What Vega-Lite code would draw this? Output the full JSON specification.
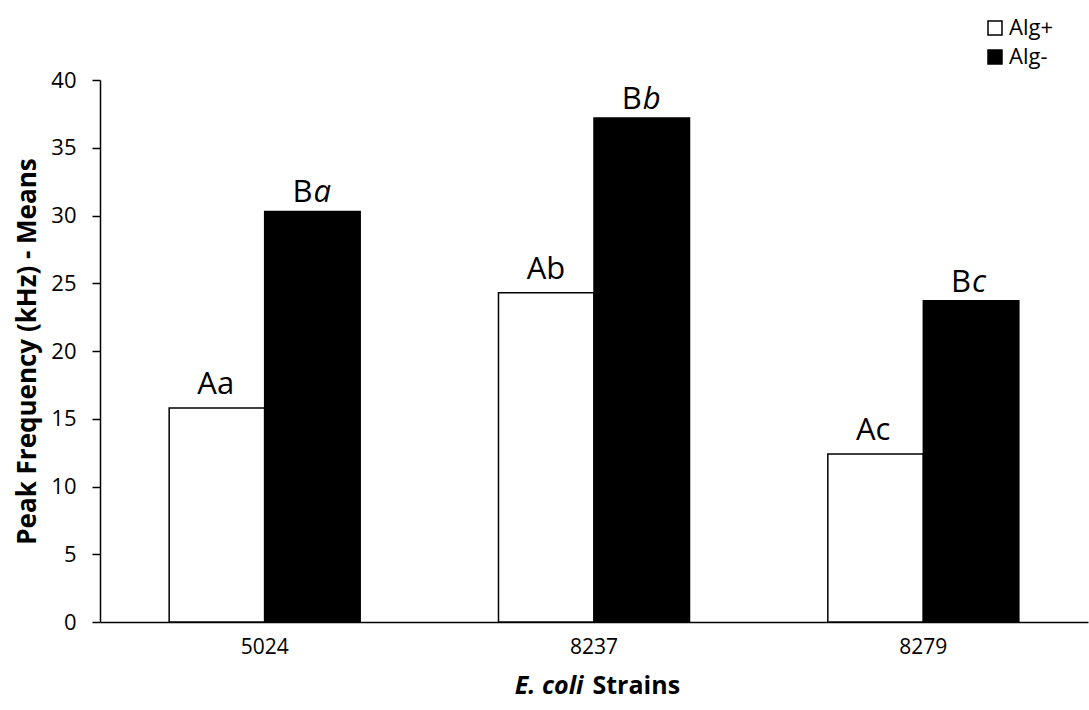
{
  "$schema": "https://vega.github.io/schema/vega-lite/v6.json",
  "width": 988,
  "height": 542,
  "autosize": {"type": "none"},
  "padding": {"left": 100, "top": 80, "right": 1, "bottom": 88},
  "background": "white",
  "config": {"view": {"stroke": null}, "font": "Open Sans"},
  "data": {
    "values": [
      {"strain": "5024", "series": "Alg+", "value": 15.8, "upper": "A", "lower": "a"},
      {"strain": "5024", "series": "Alg-", "value": 30.3, "upper": "B", "lower": "a"},
      {"strain": "8237", "series": "Alg+", "value": 24.3, "upper": "A", "lower": "b"},
      {"strain": "8237", "series": "Alg-", "value": 37.2, "upper": "B", "lower": "b"},
      {"strain": "8279", "series": "Alg+", "value": 12.4, "upper": "A", "lower": "c"},
      {"strain": "8279", "series": "Alg-", "value": 23.7, "upper": "B", "lower": "c"}
    ]
  },
  "encoding": {
    "xOffset": {"field": "series", "type": "nominal", "sort": ["Alg+", "Alg-"]},
    "y": {
      "field": "value",
      "type": "quantitative",
      "scale": {"domain": [0, 40]},
      "axis": {
        "title": "Peak Frequency (kHz) - Means",
        "titleFontSize": 26,
        "titleFontWeight": "bold",
        "titleColor": "black",
        "titlePadding": 10,
        "labelFontSize": 22,
        "labelColor": "black",
        "labelPadding": 16,
        "values": [0, 5, 10, 15, 20, 25, 30, 35, 40],
        "grid": false,
        "domainColor": "black",
        "domainWidth": 1.5,
        "tickColor": "black",
        "tickWidth": 1.5,
        "tickSize": 8
      }
    }
  },
  "layer": [
    {
      "mark": {"type": "bar", "stroke": "black", "strokeWidth": 1.5},
      "encoding": {
        "x": {
          "field": "strain",
          "type": "nominal",
          "sort": null,
          "scale": {"paddingInner": 0.42, "paddingOuter": 0.21},
          "axis": {
            "title": "E. coli",
            "titleFontStyle": "italic",
            "titleFontWeight": "bold",
            "titleFontSize": 25,
            "titleColor": "black",
            "titleAlign": "right",
            "titleX": 483,
            "titleY": 71,
            "titleBaseline": "alphabetic",
            "labelAngle": 0,
            "labelFontSize": 21,
            "labelColor": "black",
            "labelPadding": 14,
            "ticks": false,
            "domainColor": "black",
            "domainWidth": 1.5
          }
        },
        "fill": {
          "field": "series",
          "type": "nominal",
          "scale": {"domain": ["Alg+", "Alg-"], "range": ["white", "black"]},
          "legend": {
            "title": null,
            "orient": "none",
            "legendX": 884,
            "legendY": -63,
            "symbolType": "square",
            "symbolSize": 196,
            "symbolStrokeColor": "black",
            "symbolStrokeWidth": 1.5,
            "labelFontSize": 22,
            "labelColor": "black",
            "labelOffset": 3,
            "rowPadding": 7,
            "padding": 0
          }
        }
      }
    },
    {
      "transform": [{"filter": "datum.series === 'Alg+'"}],
      "mark": {"type": "text", "align": "right", "baseline": "alphabetic", "dy": -14, "fontSize": 31, "color": "black"},
      "encoding": {
        "x": {
          "field": "strain",
          "type": "nominal",
          "sort": null,
          "axis": {
            "title": "Strains",
            "titleFontWeight": "bold",
            "titleFontSize": 25,
            "titleColor": "black",
            "titleAlign": "left",
            "titleX": 492,
            "titleY": 71,
            "titleBaseline": "alphabetic",
            "labels": false,
            "ticks": false,
            "domain": false,
            "orient": "bottom"
          }
        },
        "text": {"field": "upper"}
      }
    },
    {
      "transform": [{"filter": "datum.series === 'Alg+'"}],
      "mark": {"type": "text", "align": "left", "baseline": "alphabetic", "dy": -14, "fontSize": 31, "color": "black"},
      "encoding": {
        "x": {"field": "strain", "type": "nominal", "sort": null, "axis": null},
        "text": {"field": "lower"}
      }
    },
    {
      "transform": [{"filter": "datum.series === 'Alg-'"}],
      "mark": {"type": "text", "align": "right", "baseline": "alphabetic", "dy": -9, "fontSize": 31, "color": "black"},
      "encoding": {
        "x": {"field": "strain", "type": "nominal", "sort": null, "axis": null},
        "text": {"field": "upper"}
      }
    },
    {
      "transform": [{"filter": "datum.series === 'Alg-'"}],
      "mark": {"type": "text", "align": "left", "baseline": "alphabetic", "dy": -9, "dx": 1, "fontSize": 31, "fontStyle": "italic", "color": "black"},
      "encoding": {
        "x": {"field": "strain", "type": "nominal", "sort": null, "axis": null},
        "text": {"field": "lower"}
      }
    }
  ],
  "resolve": {"axis": {"x": "independent"}}
}
